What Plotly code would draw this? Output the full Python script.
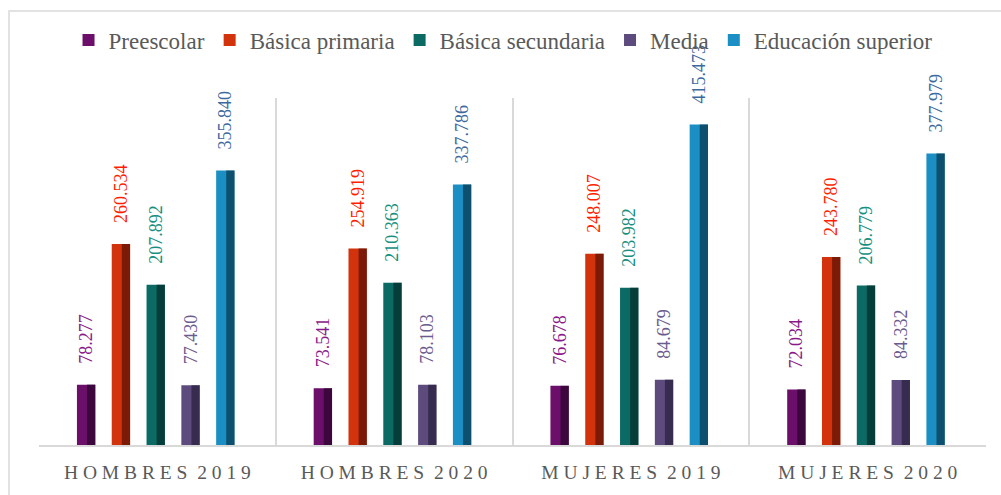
import plotly.graph_objects as go

categories = ["HOMBRES 2019", "HOMBRES 2020", "MUJERES 2019", "MUJERES 2020"]
series_names = ["Preescolar", "Básica primaria", "Básica secundaria", "Media", "Educación superior"]
preescolar = [78277, 73541, 76678, 72034]
basica_primaria = [260534, 254919, 248007, 243780]
basica_secundaria = [207892, 210363, 203982, 206779]
media = [77430, 78103, 84679, 84332]
educacion_superior = [355840, 337786, 415473, 377979]
series_values = [preescolar, basica_primaria, basica_secundaria, media, educacion_superior]

main_colors = ["#6b0f6b", "#d2320c", "#0b6a64", "#5e4b7e", "#1b8fc4"]
dark_colors = ["#2c052e", "#5e1405", "#032f2c", "#2b2140", "#0a3a52"]
label_colors = ["#8a1a8a", "#ff1e00", "#17907f", "#6b5b8e", "#3d6a9e"]

SERIF = "Liberation Serif"

def spaced(label):
    words = label.split(" ")
    return "\u00a0\u00a0".join(" ".join(list(w)) for w in words)

tick_text = [spaced(c) for c in categories]

bar_w = 0.0775
step = 0.147
shift = -0.007

fig = go.Figure()
for i, (name, vals) in enumerate(zip(series_names, series_values)):
    c = shift + (i - 2) * step
    fig.add_trace(go.Bar(
        x=categories, y=vals, name=name,
        width=bar_w, offset=c - bar_w / 2,
        marker=dict(color=main_colors[i], line=dict(width=0)),
        texttemplate="\u00a0\u00a0\u00a0\u00a0%{y:,.0f}",
        textposition="outside", textangle=-90,
        constraintext="none", cliponaxis=False,
        textfont=dict(family=SERIF, size=18, color=label_colors[i]),
        hoverinfo="skip",
    ))
for i, (name, vals) in enumerate(zip(series_names, series_values)):
    c = shift + (i - 2) * step
    fig.add_trace(go.Bar(
        x=categories, y=vals, name=name + " sombra", showlegend=False,
        width=bar_w * 0.45, offset=c + bar_w * 0.05,
        marker=dict(color=dark_colors[i], opacity=0.75, line=dict(width=0)),
        hoverinfo="skip",
    ))

fig.update_layout(
    width=1001, height=495,
    barmode="overlay",
    separators=",.",
    paper_bgcolor="white", plot_bgcolor="white",
    margin=dict(l=39, r=15, t=98, b=50, autoexpand=False),
    font=dict(family=SERIF, color="#595959"),
    showlegend=True,
    legend=dict(orientation="h", x=0.49, xanchor="center", y=1.167, yanchor="middle",
                font=dict(family=SERIF, size=23, color="#595959"), itemwidth=30,
                tracegroupgap=0, bgcolor="rgba(0,0,0,0)"),
    xaxis=dict(type="category", tickmode="array", tickvals=categories, ticktext=tick_text,
               tickson="boundaries", showgrid=True, gridcolor="#d9d9d9", gridwidth=1.5,
               showline=True, linecolor="#d9d9d9", linewidth=1.5, ticks="",
               ticklabelstandoff=9, automargin=False,
               tickfont=dict(family=SERIF, size=19.5, color="#595959"),
               range=[-0.5, 3.5], fixedrange=True),
    yaxis=dict(range=[0, 450000], visible=False, showgrid=False, zeroline=False),
    shapes=[dict(type="rect", xref="paper", yref="paper",
                 x0=(9 - 39) / 947, x1=(1010 - 39) / 947,
                 y0=(445 - 505) / 347, y1=(445 - 11) / 347,
                 line=dict(color="#d9d9d9", width=1.5), fillcolor="rgba(0,0,0,0)", layer="below")],
)

fig.write_html("out.html", config={"displayModeBar": False},
               post_script="document.body.style.margin='0';")
